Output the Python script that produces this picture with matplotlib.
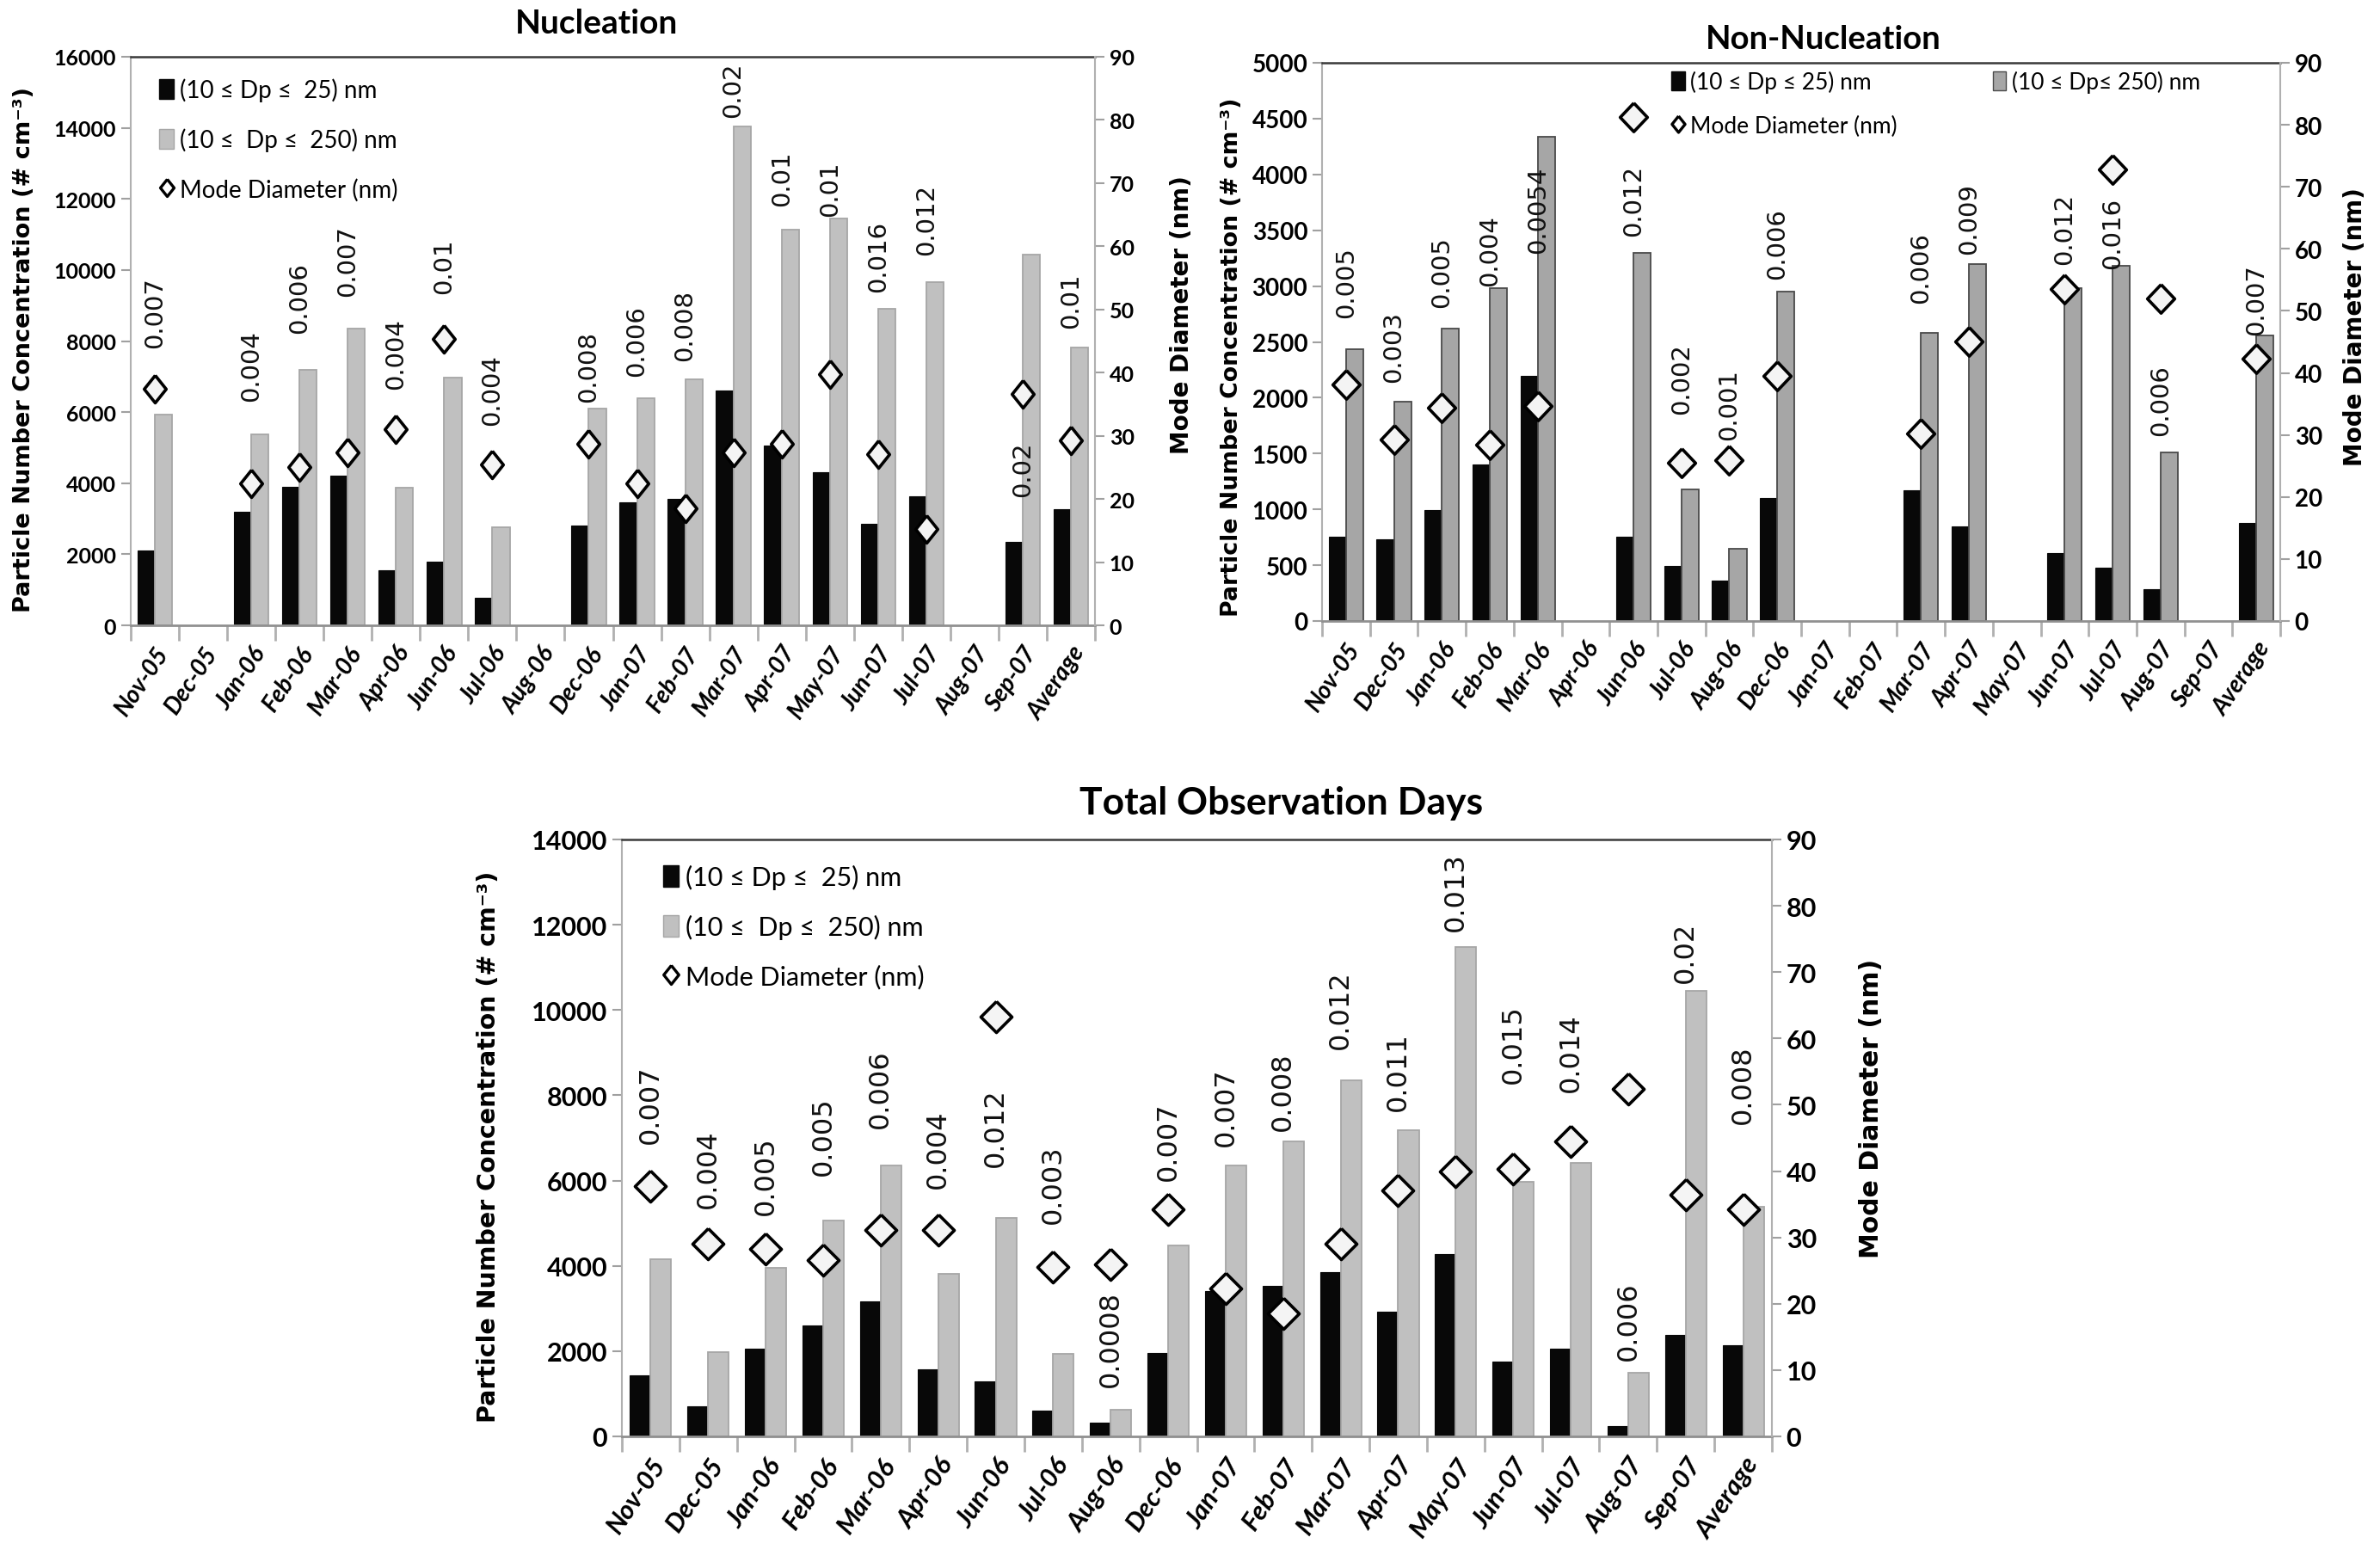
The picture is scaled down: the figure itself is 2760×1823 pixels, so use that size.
import numpy as np
import matplotlib
matplotlib.use('Agg')
import matplotlib.pyplot as plt
from matplotlib.lines import Line2D
from matplotlib.patches import Patch

nan = np.nan

months = ['Nov-05', 'Dec-05', 'Jan-06', 'Feb-06', 'Mar-06', 'Apr-06', 'Jun-06', 'Jul-06', 'Aug-06',
          'Dec-06', 'Jan-07', 'Feb-07', 'Mar-07', 'Apr-07', 'May-07', 'Jun-07', 'Jul-07', 'Aug-07',
          'Sep-07', 'Average']

# Nucleation days
nuc_small = [2100, nan, 3190, 3890, 4220, 1560, 1800, 775, nan, 2810, 3450, 3550, 6600, 5050,
             4300, 2860, 3630, nan, 2350, 3270]
nuc_total = [5920, nan, 5385, 7180, 8350, 3875, 6970, 2760, nan, 6100, 6380, 6920, 14050, 11130,
             11450, 8910, 9660, nan, 10430, 7820]
nuc_mode = [37.4, nan, 22.4, 25.1, 27.3, 31.0, 45.4, 25.5, nan, 28.7, 22.4, 18.5, 27.4, 28.7,
            39.8, 27.1, 15.3, nan, 36.6, 29.3]
nuc_labels = ['0.007', '', '0.004', '0.006', '0.007', '0.004', '0.01', '0.004', '', '0.008',
              '0.006', '0.008', '0.02', '0.01', '0.01', '0.016', '0.012', '', '0.02', '0.01']

# Non-nucleation days
non_small = [758, 733, 997, 1404, 2193, nan, 758, 494, 362, 1105, nan, nan, 1170, 851, nan,
             612, 478, 283, nan, 877]
non_total = [2432, 1961, 2619, 2982, 4337, nan, 3297, 1177, 648, 2951, nan, nan, 2581, 3197, nan,
             2982, 3182, 1510, nan, 2558]
non_mode = [38.2, 29.2, 34.4, 28.4, 34.6, nan, 81.3, 25.5, 26.0, 39.5, nan, nan, 30.3, 45.1, nan,
            53.5, 72.8, 52.0, nan, 42.3]
non_labels = ['0.005', '0.003', '0.005', '0.004', '0.0054', '', '0.012', '0.002', '0.001', '0.006',
              '', '', '0.006', '0.009', '', '0.012', '0.016', '0.006', '', '0.007']

# Total observation days
tot_small = [1431, 716, 2067, 2609, 3171, 1565, 1291, 602, 328, 1953, 3411, 3538, 3860, 2923,
             4274, 1752, 2067, 247, 2375, 2134]
tot_total = [4147, 1987, 3946, 5063, 6348, 3813, 5130, 1940, 629, 4475, 6355, 6919, 8351, 7182,
             11478, 5971, 6415, 1485, 10449, 5385]
tot_mode = [37.8, 29.1, 28.3, 26.6, 31.1, 31.1, 63.3, 25.5, 25.9, 34.2, 22.3, 18.6, 29.0, 37.1,
            39.9, 40.3, 44.5, 52.4, 36.5, 34.3]
tot_labels = ['0.007', '0.004', '0.005', '0.005', '0.006', '0.004', '0.012', '0.003', '0.0008',
              '0.007', '0.007', '0.008', '0.012', '0.011', '0.013', '0.015', '0.014', '0.006',
              '0.02', '0.008']

# where each text label sits (bottom of the text, on the right-hand axis scale)
nuc_label_pos = [44.0, nan, 35.5, 46.3, 52.2, 37.4, 52.6, 31.7, nan, 35.4, 39.5, 41.9, 80.5, 66.4,
                 64.8, 52.8, 58.7, nan, 20.4, 47.1]
non_label_pos = [49.0, 38.5, 50.6, 54.1, 59.4, nan, 62.1, 33.4, 29.3, 55.2, nan, nan, 51.3, 59.2,
                 nan, 57.5, 56.9, 30.0, nan, 46.2]
tot_label_pos = [44.2, 34.5, 33.5, 39.4, 46.6, 37.5, 40.7, 32.2, 7.5, 38.6, 43.8, 46.2, 58.5, 49.2,
                 76.3, 53.3, 52.0, 11.5, 68.5, 47.2]

W, H = 2760, 1824
fig = plt.figure(figsize=(W / 100, H / 100), dpi=100)

TXT = ['Lato', 'DejaVu Sans']


def diamond(ratio):
    return [(0, 1), (ratio, 0), (0, -1), (-ratio, 0), (0, 1)]


def panel(box, small, total, mode, labels, label_pos, ymax, ystep, gray, gray_edge,
          tick_fs, xlab_fs, ann_fs, ms, ratio, legend_fs, legend_kw, two_cols=False):
    l, t, r, b = box
    ax = fig.add_axes([l / W, 1 - b / H, (r - l) / W, (b - t) / H])
    x = np.arange(len(months))
    w = 0.36
    ax.bar(x - w / 2, small, w, color='#080808', edgecolor='#080808', linewidth=0.8, zorder=2)
    ax.bar(x + w / 2, total, w, color=gray, edgecolor=gray_edge, linewidth=1.3, zorder=2)
    ax.set_xlim(-0.5, len(months) - 0.5)
    ax.set_ylim(0, ymax)
    ax.set_yticks(np.arange(0, ymax + 1, ystep))
    ax.set_xticks(x)
    ax.set_xticklabels(months, rotation=56, ha='right', rotation_mode='anchor',
                       fontsize=xlab_fs, fontweight='bold', fontstyle='italic', family=TXT)
    ax.set_xticks(np.arange(-0.5, len(months)), minor=True)
    ax.tick_params(axis='x', which='major', length=0, pad=14)
    ax.tick_params(axis='x', which='minor', length=13, width=2, color='#b0b0b0')
    ax.tick_params(axis='y', length=8, width=1.5, color='#a0a0a0', labelsize=tick_fs, pad=4)
    for lab in ax.get_yticklabels():
        lab.set_family(TXT)
        lab.set_fontweight('bold')
    ax.spines['top'].set_color('#3a3a3a')
    ax.spines['top'].set_linewidth(1.8)
    ax.spines['left'].set_color('#b0b0b0')
    ax.spines['left'].set_linewidth(1.5)
    ax.spines['bottom'].set_color('#909090')
    ax.spines['bottom'].set_linewidth(2)
    ax.spines['right'].set_visible(False)

    ax2 = ax.twinx()
    ax2.set_ylim(0, 90)
    ax2.set_yticks(np.arange(0, 91, 10))
    for s in ['top', 'left', 'bottom']:
        ax2.spines[s].set_visible(False)
    ax2.spines['right'].set_color('#b0b0b0')
    ax2.spines['right'].set_linewidth(1.5)
    ax2.tick_params(axis='y', length=8, width=1.5, color='#a0a0a0', labelsize=tick_fs, pad=4)
    for lab in ax2.get_yticklabels():
        lab.set_family(TXT)
        lab.set_fontweight('bold')
    ax2.plot(x, mode, linestyle='none', marker=diamond(ratio), markersize=ms,
             markerfacecolor='#f4f4f4', markeredgecolor='black', markeredgewidth=2.6, zorder=3)
    for xi, txt, yp in zip(x, labels, label_pos):
        if txt:
            ax2.text(xi, yp, txt, rotation=90, ha='center', va='bottom', fontsize=ann_fs,
                     family='DejaVu Sans', color='#111111')

    h_small = Patch(facecolor='#080808', edgecolor='#080808')
    h_total = Patch(facecolor=gray, edgecolor=gray_edge)
    h_mode = Line2D([], [], linestyle='none', marker=diamond(0.8), markersize=legend_fs * 0.72,
                    markerfacecolor='white', markeredgecolor='black', markeredgewidth=2.4)
    names = legend_kw.pop('names')
    if two_cols:
        handles = [h_small, h_mode, h_total]
        names = [names[0], names[2], names[1]]
        ncol = 2
    else:
        handles = [h_small, h_total, h_mode]
        ncol = 1
    ax2.legend(handles, names, ncol=ncol, frameon=False, handlelength=0.6,
               handleheight=0.9, handletextpad=0.25, borderaxespad=0.2,
               prop={'family': TXT, 'size': legend_fs}, **legend_kw)
    return ax, ax2


panel((152, 67, 1273, 728), nuc_small, nuc_total, nuc_mode, nuc_labels, nuc_label_pos,
      16000, 2000, '#c0c0c0', '#a6a6a6', 18, 20, 21, 23, 0.8, 20,
      dict(names=['(10 \u2264 Dp \u2264  25) nm', '(10 \u2264  Dp \u2264  250) nm',
                  'Mode Diameter (nm)'],
           loc='upper left', bbox_to_anchor=(0.015, 0.988), labelspacing=1.1))

panel((1537, 74, 2651, 723), non_small, non_total, non_mode, non_labels, non_label_pos,
      5000, 500, '#a6a6a6', '#4a4a4a', 20, 20, 21, 24, 0.95, 19,
      dict(names=['(10 \u2264 Dp \u2264 25) nm', '(10 \u2264 Dp\u2264 250) nm',
                  'Mode Diameter (nm)'],
           loc='upper left', bbox_to_anchor=(0.35, 1.01), labelspacing=0.95, columnspacing=4.2),
      two_cols=True)

panel((723, 977, 2060, 1671), tot_small, tot_total, tot_mode, tot_labels, tot_label_pos,
      14000, 2000, '#c0c0c0', '#a6a6a6', 22, 22, 23, 26, 1.0, 22,
      dict(names=['(10 \u2264 Dp \u2264  25) nm', '(10 \u2264  Dp \u2264  250) nm',
                  'Mode Diameter (nm)'],
           loc='upper left', bbox_to_anchor=(0.022, 0.985), labelspacing=0.95))

# titles
fig.text(693 / W, 1 - 39 / H, 'Nucleation', ha='center', va='baseline', fontsize=28,
         fontweight='bold', family=TXT)
fig.text(2120 / W, 1 - 57 / H, 'Non-Nucleation', ha='center', va='baseline', fontsize=27.5,
         fontweight='bold', family=TXT)
fig.text(1490 / W, 1 - 947 / H, 'Total Observation Days', ha='center', va='baseline',
         fontsize=32, fontweight='bold', family=TXT)

# axis titles
ylab = 'Particle Number Concentration (# cm\u207b\u00b3)'
rlab = 'Mode Diameter (nm)'
for (cx, cy, txt, fs) in [(28, 407, ylab, 19.5), (1374, 366, rlab, 20),
                          (1432, 415, ylab, 19.3), (2738, 380, rlab, 20),
                          (568, 1333, ylab, 20.5), (2176, 1289, rlab, 21.5)]:
    fig.text(cx / W, 1 - cy / H, txt, rotation=90, ha='center', va='center', fontsize=fs,
             fontweight='bold', family='DejaVu Sans')

fig.savefig('out.png', dpi=100)
